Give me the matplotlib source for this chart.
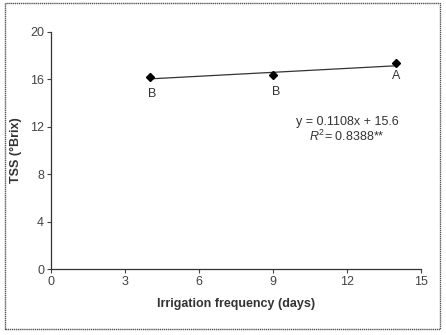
import numpy as np
import matplotlib.pyplot as plt
from matplotlib.patches import Rectangle

# data
freq = [4, 9, 14]
tss = [16.2, 16.35, 17.35]
letters = ['B', 'B', 'A']
slope = 0.1108
intercept = 15.6
r2 = 0.8388

xticks = [0, 3, 6, 9, 12, 15]
yticks = [0, 4, 8, 12, 16, 20]

plt.rcParams['font.family'] = ['Liberation Sans', 'DejaVu Sans']
plt.rcParams['mathtext.fontset'] = 'custom'
plt.rcParams['mathtext.it'] = 'Liberation Sans:italic'
plt.rcParams['mathtext.rm'] = 'Liberation Sans'

fig = plt.figure(figsize=(4.46, 3.35), dpi=100)
ax = fig.add_axes([51 / 446, 1 - 269 / 335, 370 / 446, 237 / 335])

# outer frame around the whole chart
fig.patches.append(Rectangle((5 / 446, 6 / 335), 435 / 446, 326 / 335,
                             transform=fig.transFigure, fill=False,
                             edgecolor='#555555', linewidth=1.0, linestyle=(0, (1, 0.5))))

ax.plot(freq, tss, linestyle='none', marker='D', markersize=4.5, color='black', zorder=3)

xfit = np.array([freq[0], freq[-1]])
ax.plot(xfit, slope * xfit + intercept, color='#333333', linewidth=0.9)

offsets = [(2, -12), (2, -12), (0, -9)]
for x, y, lab, (dx, dy) in zip(freq, tss, letters, offsets):
    ax.annotate(lab, (x, y), xytext=(dx, dy), textcoords='offset points',
                ha='center', va='center', fontsize=9, color='#333333')

ax.text(12.0, 12.4, f'y = {slope}x + {intercept}', ha='center', va='center',
        fontsize=9, color='#333333')
ax.text(12.0, 11.2, r'$R^{2}$' + f'= {r2}**', ha='center', va='center',
        fontsize=9, color='#333333')

ax.set_xlim(0, 15)
ax.set_ylim(0, 20)
ax.set_xticks(xticks)
ax.set_yticks(yticks)
ax.tick_params(labelsize=9, colors='#444444', length=3, width=0.8, pad=2)
for s in ['top', 'right']:
    ax.spines[s].set_visible(False)
for s in ['left', 'bottom']:
    ax.spines[s].set_color('#333333')
    ax.spines[s].set_linewidth(0.9)

ax.set_xlabel('Irrigation frequency (days)', fontsize=9, fontweight='bold', color='#333333')
ax.xaxis.set_label_coords(0.5, -29 / 237)
ax.set_ylabel('TSS (°Brix)', fontsize=9, fontweight='bold', color='#333333')
ax.yaxis.set_label_coords(-29 / 370, 0.5)

fig.savefig('out.png', dpi=100)
